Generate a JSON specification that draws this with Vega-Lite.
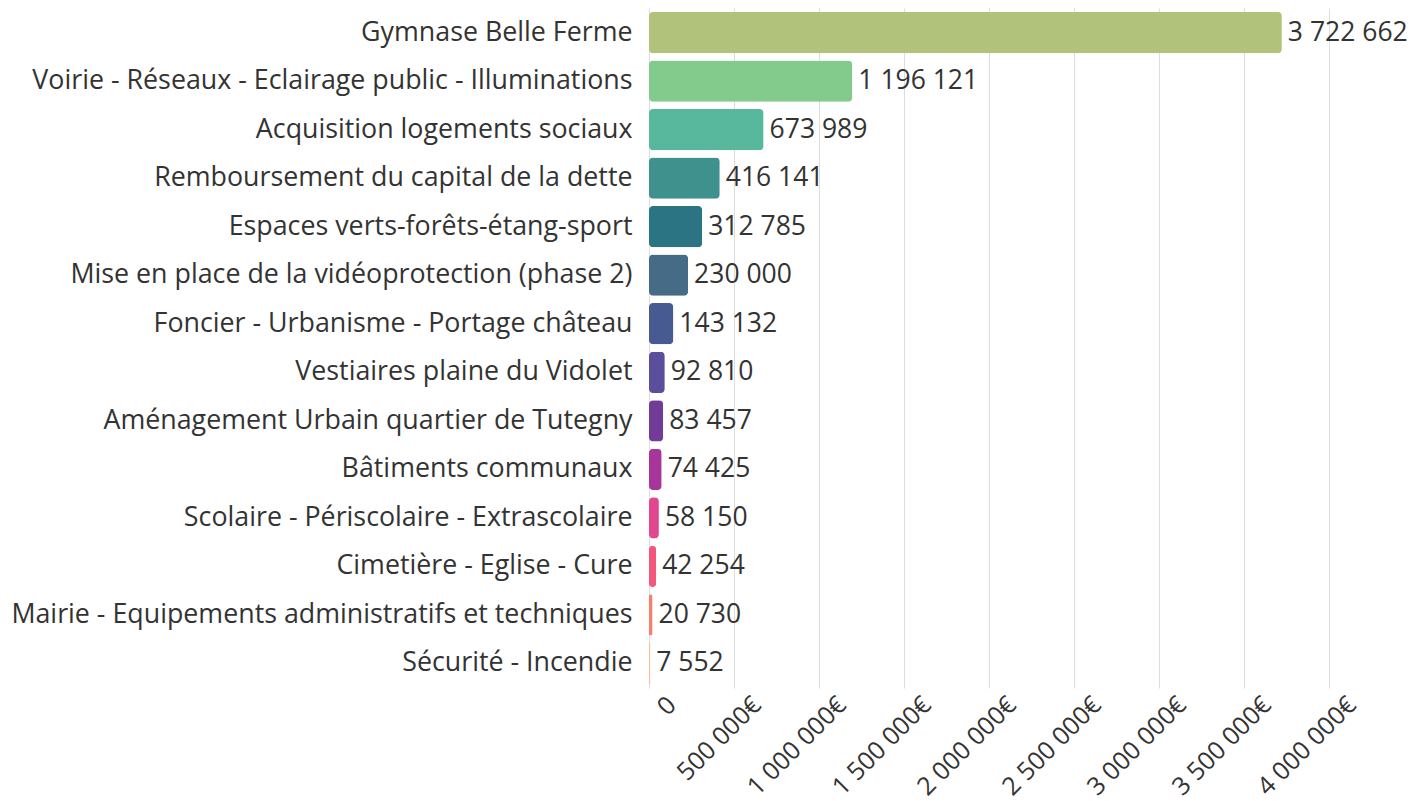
{
  "$schema": "https://vega.github.io/schema/vega-lite/v6.json",
  "autosize": "none",
  "width": 680,
  "height": 680,
  "padding": {"left": 649, "top": 8, "right": 97, "bottom": 113},
  "background": "white",
  "config": {
    "font": "Open Sans",
    "view": {"stroke": null},
    "locale": {"number": {"decimal": ",", "thousands": " ", "grouping": [3], "currency": ["", " €"]}}
  },
  "data": {"values": [
    {"poste": "Gymnase Belle Ferme", "montant": 3722662},
    {"poste": "Voirie - Réseaux - Eclairage public - Illuminations", "montant": 1196121},
    {"poste": "Acquisition logements sociaux", "montant": 673989},
    {"poste": "Remboursement du capital de la dette", "montant": 416141},
    {"poste": "Espaces verts-forêts-étang-sport", "montant": 312785},
    {"poste": "Mise en place de la vidéoprotection (phase 2)", "montant": 230000},
    {"poste": "Foncier - Urbanisme - Portage château", "montant": 143132},
    {"poste": "Vestiaires plaine du Vidolet", "montant": 92810},
    {"poste": "Aménagement Urbain quartier de Tutegny", "montant": 83457},
    {"poste": "Bâtiments communaux", "montant": 74425},
    {"poste": "Scolaire - Périscolaire - Extrascolaire", "montant": 58150},
    {"poste": "Cimetière - Eglise - Cure", "montant": 42254},
    {"poste": "Mairie - Equipements administratifs et techniques", "montant": 20730},
    {"poste": "Sécurité - Incendie", "montant": 7552}
  ]},
  "encoding": {
    "y": {
      "field": "poste", "type": "nominal", "sort": null,
      "scale": {"paddingInner": 0.15, "paddingOuter": 0.08},
      "axis": {"title": null, "domain": false, "ticks": false, "labelFontSize": 26.8, "labelColor": "#333333", "labelPadding": 17, "labelLimit": 700}
    },
    "x": {
      "field": "montant", "type": "quantitative",
      "scale": {"domain": [0, 4000000], "nice": false},
      "axis": {"title": null, "domain": false, "ticks": false, "values": [0, 500000, 1000000, 1500000, 2000000, 2500000, 3000000, 3500000, 4000000],
        "labelExpr": "datum.value == 0 ? '0' : format(datum.value, ',d') + '€'",
        "labelOverlap": false, "labelBound": false, "labelFlush": false,
        "labelAngle": -45, "labelFontSize": 25, "labelColor": "#333333", "labelPadding": 4, "labelOffset": 14,
        "gridColor": "#dddddd", "gridWidth": 1}
    }
  },
  "layer": [
    {
      "mark": {"type": "bar", "cornerRadius": 4},
      "encoding": {
        "color": {
          "field": "poste", "type": "nominal", "legend": null,
          "scale": {
            "domain": ["Gymnase Belle Ferme", "Voirie - Réseaux - Eclairage public - Illuminations", "Acquisition logements sociaux", "Remboursement du capital de la dette", "Espaces verts-forêts-étang-sport", "Mise en place de la vidéoprotection (phase 2)", "Foncier - Urbanisme - Portage château", "Vestiaires plaine du Vidolet", "Aménagement Urbain quartier de Tutegny", "Bâtiments communaux", "Scolaire - Périscolaire - Extrascolaire", "Cimetière - Eglise - Cure", "Mairie - Equipements administratifs et techniques", "Sécurité - Incendie"],
            "range": ["#b1c27a", "#82cb8c", "#57b89d", "#3f918e", "#2b7483", "#456b86", "#485a92", "#5a4f9b", "#703c98", "#a8359a", "#e1468f", "#f5577c", "#f77f6a", "#f8bb92"]
          }
        }
      }
    },
    {
      "mark": {"type": "text", "align": "left", "baseline": "middle", "dx": 6, "fontSize": 26.5, "color": "#333333"},
      "encoding": {"text": {"field": "montant", "type": "quantitative", "format": ",d"}}
    }
  ]
}
